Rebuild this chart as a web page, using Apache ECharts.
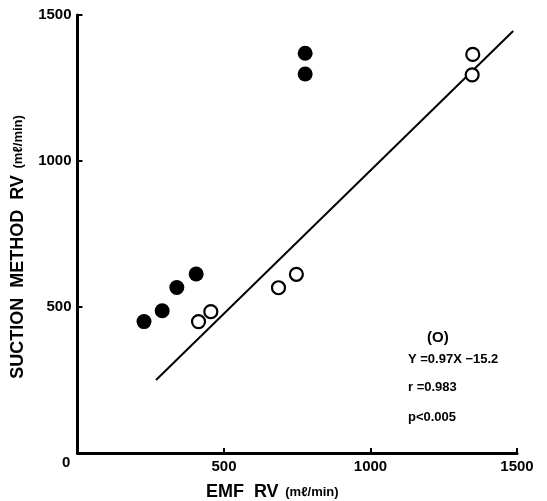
<!DOCTYPE html>
<html><head><meta charset="utf-8">
<script src="https://cdn.jsdelivr.net/npm/echarts@6/dist/echarts.min.js"></script>
<style>html,body{margin:0;padding:0;background:#fff}#c{width:547px;height:501px}</style>
</head><body><div id="c"></div>
<script>
const xTicks = [0, 500, 1000, 1500];
const yTicks = [0, 500, 1000, 1500];
const filledPoints = [[227,450],[289,487],[339,567],[405,613],[777,1369],[777,1298]];
const openPoints = [[413,450],[455,484],[686,566],[747,612],[1349,1365],[1347,1295]];
const regressionLine = [[268,250],[1487,1445]];
const annotationLines = ['(O)', 'Y =0.97X −15.2', 'r =0.983', 'p<0.005'];

const FONT = 'Liberation Sans, Arial, sans-serif';
const labelFmt = v => String(v);
const chart = echarts.init(document.getElementById('c'));
chart.setOption({
  backgroundColor: '#fff',
  animation: false,
  grid: {left: 77.5, right: 30, top: 15, bottom: 48, containLabel: false, outerBoundsMode: 'none'},
  xAxis: {
    type: 'value', min: xTicks[0], max: xTicks[xTicks.length-1], interval: 500,
    axisLine: {lineStyle: {color: '#000', width: 3}},
    axisTick: {inside: true, length: 5, lineStyle: {color: '#000', width: 2}},
    splitLine: {show: false},
    axisLabel: {color: '#000', fontSize: 15, fontWeight: 'bold', fontFamily: FONT, margin: 6, showMinLabel: false, formatter: labelFmt},
    name: '{a|EMF  RV}  {b|(mℓ/min)}',
    nameLocation: 'middle', nameGap: 30,
    nameTextStyle: {padding: [0, 50, 0, 0],
      rich: {a: {fontSize: 18, fontWeight: 'bold', fontFamily: FONT, color: '#000'},
             b: {fontSize: 13, fontWeight: 'bold', fontFamily: FONT, color: '#000'}}}
  },
  yAxis: {
    type: 'value', min: yTicks[0], max: yTicks[yTicks.length-1], interval: 500,
    axisLine: {lineStyle: {color: '#000', width: 3}},
    axisTick: {inside: true, length: 5, lineStyle: {color: '#000', width: 2}},
    splitLine: {show: false},
    axisLabel: {color: '#000', fontSize: 15, fontWeight: 'bold', fontFamily: FONT, margin: 6, showMinLabel: false, formatter: labelFmt},
    name: '{a|SUCTION  METHOD  RV}  {b|(mℓ/min)}',
    nameLocation: 'middle', nameGap: 46, nameRotate: 90,
    nameTextStyle: {padding: [0, 26, 0, 0],
      rich: {a: {fontSize: 18, fontWeight: 'bold', fontFamily: FONT, color: '#000'},
             b: {fontSize: 13, fontWeight: 'bold', fontFamily: FONT, color: '#000'}}}
  },
  series: [
    {type: 'line', data: regressionLine, symbol: 'none', lineStyle: {color: '#000', width: 2}, z: 1},
    {type: 'scatter', data: filledPoints, symbol: 'circle', symbolSize: 15, itemStyle: {color: '#000', opacity: 1}, z: 3},
    {type: 'scatter', data: openPoints, symbol: 'circle', symbolSize: 13, itemStyle: {color: '#fff', borderColor: '#000', borderWidth: 2.2, opacity: 1}, z: 3}
  ],
  graphic: [
    {type: 'text', left: 62, top: 455, style: {text: '0', fontSize: 15, fontWeight: 'bold', fontFamily: FONT, fill: '#000'}},
    {type: 'text', left: 427, top: 330, style: {text: annotationLines[0], fontSize: 15, fontWeight: 'bold', fontFamily: FONT, fill: '#000'}},
    {type: 'text', left: 408, top: 353, style: {text: annotationLines[1], fontSize: 13, fontWeight: 'bold', fontFamily: FONT, fill: '#000'}},
    {type: 'text', left: 408, top: 381, style: {text: annotationLines[2], fontSize: 13, fontWeight: 'bold', fontFamily: FONT, fill: '#000'}},
    {type: 'text', left: 408, top: 411, style: {text: annotationLines[3], fontSize: 13, fontWeight: 'bold', fontFamily: FONT, fill: '#000'}}
  ]
});
</script></body></html>
